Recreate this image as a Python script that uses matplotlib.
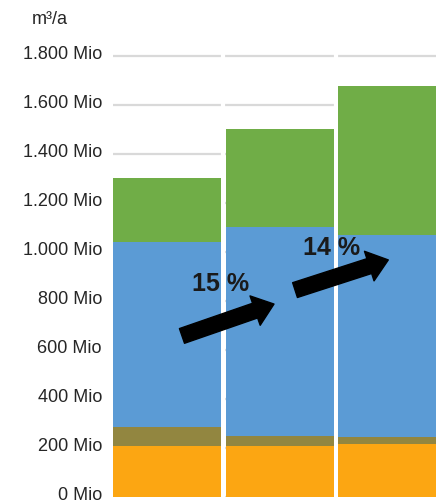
import numpy as np
import matplotlib
matplotlib.use("Agg")
import matplotlib.pyplot as plt
import matplotlib.transforms as mtransforms
from matplotlib.patches import FancyArrowPatch

plt.rcParams["font.family"] = ["Liberation Sans", "DejaVu Sans"]

# water demand per scenario, Mio m³/a (stacked from bottom to top)
scenarios = ["A", "B", "C"]
orange_part = [210, 208, 215]
olive_part = [75, 40, 30]
blue_part = [755, 852, 823]
green_part = [260, 400, 608]

yticks = [0, 200, 400, 600, 800, 1000, 1200, 1400, 1600, 1800]
ytick_labels = ["0 Mio", "200 Mio", "400 Mio", "600 Mio", "800 Mio",
                "1.000 Mio", "1.200 Mio", "1.400 Mio", "1.600 Mio", "1.800 Mio"]

growth_labels = ["15 %", "14 %"]

colors = ["#FCA612", "#928640", "#5B9BD5", "#70AD47"]

fig = plt.figure(figsize=(4.36, 5.0), dpi=100)
ax = fig.add_axes([0.2592, 0.006, 0.7408, 0.9316])

x = np.arange(len(scenarios))
bottom = np.zeros(len(scenarios))
for part, col in zip([orange_part, olive_part, blue_part, green_part], colors):
    ax.bar(x, part, width=0.96, bottom=bottom, color=col, zorder=2)
    bottom += np.array(part)

# grid lines, broken by the white gaps between the columns
for y in yticks:
    ax.axhline(y, color="#D9D9D9", lw=1.6, zorder=1)
for xs in [0.5, 1.5]:
    ax.axvline(xs, color="white", lw=3, zorder=1.5)

ax.set_xlim(-0.48, 2.391)
ax.set_ylim(0, 1900)
ax.set_yticks(yticks)
ax.set_yticklabels(ytick_labels)
ax.set_xticks([])
ax.tick_params(axis="y", length=0, pad=8, labelsize=13, labelcolor="#262626")
for s in ax.spines.values():
    s.set_visible(False)

# labels sit a few pixels above their grid line
shift = mtransforms.ScaledTranslation(0, 0.035, fig.dpi_scale_trans)
for lab in ax.get_yticklabels():
    lab.set_transform(lab.get_transform() + shift)

fig.text(50 / 436, 1 - 20 / 500, "m³/a", ha="center", va="center",
         fontsize=13, color="#262626")

# growth arrows between the scenarios
arrows = [((0.133, 657), (0.951, 787)), ((1.138, 844), (1.967, 967))]
text_pos = [(0.476, 869), (1.467, 1016)]
for (a, b), (tx, ty), lab in zip(arrows, text_pos, growth_labels):
    arr = FancyArrowPatch(a, b, arrowstyle="simple,head_width=1.4,head_length=0.9,tail_width=0.7",
                          mutation_scale=16, color="black", shrinkA=0, shrinkB=0, zorder=4)
    ax.add_patch(arr)
    ax.text(tx, ty, lab, ha="center", va="center", fontsize=18,
            fontweight="bold", color="#1A1A1A", zorder=5)

fig.savefig("out.png", dpi=100)
